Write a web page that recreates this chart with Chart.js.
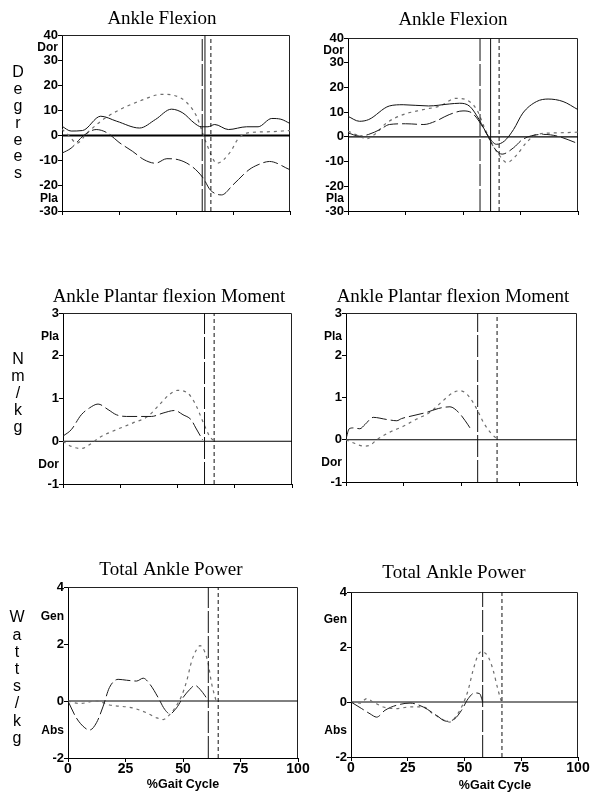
<!DOCTYPE html>
<html>
<head>
<meta charset="utf-8">
<script src="https://cdn.jsdelivr.net/npm/chart.js@4"></script>
<style>
  html, body { margin: 0; padding: 0; background: #fff; }
  body { width: 597px; height: 794px; position: relative; overflow: hidden; }
  .panel { position: absolute; }
</style>
</head>
<body>
<script>
// ---- data: % gait cycle (x) and values (y) ----
// Ankle flexion, left
const flexL_solidX = [0, 4, 9, 17, 24, 34, 41, 48, 53, 58, 61, 64, 67, 73, 81, 86, 92, 96, 100];
const flexL_solidY = [3.7, 1.8, 2, 7.7, 5.7, 3, 6.4, 10.5, 9, 5, 3.5, 3.5, 4.4, 2.4, 3.5, 3.5, 6.8, 6.5, 4.8];
const flexL_longX = [0, 4, 9.5, 15, 20, 25, 31, 36, 41, 46, 51, 57, 62, 65, 70, 75, 82, 86, 91, 100];
const flexL_longY = [-7, -5, 0, 2.4, 1, -2.7, -6.3, -9.6, -11, -9.2, -9.6, -12.3, -17, -21.6, -23.6, -19.6, -13.6, -11.6, -10.3, -13.6];
const flexL_dotX = [0, 3, 6.5, 11, 17, 24, 34, 44, 49, 54, 59, 63, 68, 74, 77, 81, 90, 100];
const flexL_dotY = [2.5, 0, -3, 1, 5.7, 9.7, 13.7, 16.4, 16, 13.7, 7.7, -2.3, -11, -6.3, -1.6, 1, 1.5, 2];
const flexL_events = [61.5, 62.7, 65.3];

// Ankle flexion, right
const flexR_solidX = [0, 5, 9, 18, 24, 35, 44, 48.5, 53, 57, 61, 64.5, 68, 72, 76, 82, 87, 93.5, 100];
const flexR_solidY = [8.3, 6.3, 7, 12.5, 13, 12.5, 13.3, 13.6, 12.3, 7, 0.3, -3, -1.7, 3, 9.6, 14.3, 15.3, 14.3, 11];
const flexR_longX = [0, 5, 9, 14, 18, 25, 33, 38, 44, 50, 54, 57, 61, 64, 67, 72, 76, 85, 91, 100];
const flexR_longY = [1.6, 0.3, 1, 3, 5, 5.3, 5, 6.3, 9, 10.5, 9.6, 6.3, 0, -5, -7, -4.4, -1, 1, 0.3, -2.7];
const flexR_dotX = [0, 5, 8, 11.6, 16.7, 24, 32.6, 40, 47, 51.4, 56, 59.4, 62.3, 66, 69, 73, 77.5, 82, 90.6, 100];
const flexR_dotY = [2.3, 0.3, -0.8, 1, 5.6, 9, 11, 12.5, 15.6, 15, 11, 3.6, -2.4, -7.7, -10.4, -7.7, -2.4, 1, 1.6, 1.9];
const flexR_events = [57.4, 62, 65.7];

// Ankle plantar flexion moment, left
const momL_longX = [0, 3.6, 8, 11.6, 15.3, 19.7, 23.3, 27.7, 38.6, 43.7, 48.8, 52.4, 56, 58, 61];
const momL_longY = [0.12, 0.27, 0.62, 0.78, 0.87, 0.74, 0.62, 0.58, 0.58, 0.66, 0.72, 0.62, 0.5, 0.31, 0.03];
const momL_dotX = [0, 3.6, 8, 12.4, 16, 23.3, 30.6, 37, 42, 46.6, 50, 54.6, 58, 61, 64, 66];
const momL_dotY = [0, -0.12, -0.17, -0.05, 0.09, 0.27, 0.43, 0.58, 0.85, 1.1, 1.19, 1.12, 0.85, 0.47, 0.12, 0];
const momL_events = [61.8, 66];

// Ankle plantar flexion moment, right
const momR_longX = [0, 1.4, 3.2, 6, 8.2, 11.8, 17.6, 22, 24, 29, 35, 40, 45, 48.7, 51.6, 53.8];
const momR_longY = [0.02, 0.26, 0.28, 0.26, 0.36, 0.53, 0.48, 0.45, 0.5, 0.57, 0.65, 0.74, 0.78, 0.65, 0.45, 0.27];
const momR_dotX = [0, 3.9, 7.5, 10.4, 13.3, 19, 24.8, 30.6, 36.4, 41.5, 46.5, 49.4, 53, 56.6, 59.5, 62.4, 65.3];
const momR_dotY = [0, -0.09, -0.15, -0.13, 0, 0.18, 0.32, 0.49, 0.65, 0.9, 1.12, 1.16, 1.04, 0.73, 0.41, 0.18, 0.02];
const momR_events = [57, 65.4];

// Total ankle power, left
const powL_longX = [0, 3.6, 7.3, 9.4, 12.4, 15.3, 18, 21.8, 25.4, 29.8, 32.7, 35.6, 39.2, 42, 44.3, 47.2, 50, 53, 55.2, 57.4, 59.6, 61];
const powL_longY = [0, -0.59, -0.94, -1.02, -0.76, -0.18, 0.47, 0.76, 0.73, 0.7, 0.8, 0.59, 0.12, -0.29, -0.45, -0.24, 0.12, 0.41, 0.55, 0.41, 0.18, 0];
const powL_dotX = [0, 5, 12.4, 18, 28, 34, 38.5, 41.4, 44.3, 47, 49.4, 51.6, 53.8, 56, 57.4, 59.6, 61, 62.5, 64.4];
const powL_dotY = [0, -0.09, 0, -0.14, -0.24, -0.41, -0.59, -0.65, -0.47, -0.18, 0.18, 0.7, 1.41, 1.82, 1.94, 1.7, 1.29, 0.59, 0];
const powL_events = [61, 65.3];

// Total ankle power, right
const powR_longX = [0, 4.7, 8.4, 11.3, 15, 20, 26, 31.8, 37.7, 42, 45.7, 48.7, 51.6, 54.5, 56.7, 58];
const powR_longY = [0, -0.24, -0.43, -0.55, -0.3, -0.12, -0.04, -0.18, -0.49, -0.7, -0.61, -0.3, 0.12, 0.33, 0.3, 0];
const powR_dotX = [0, 4, 6.9, 9.8, 14.2, 20, 26, 31.8, 36.2, 41.3, 43.5, 46.5, 49.4, 51.6, 53.8, 56, 57.5, 60.4, 62.6, 64.8, 66.3];
const powR_dotY = [0, -0.04, 0.12, 0, -0.18, -0.24, -0.18, -0.18, -0.43, -0.67, -0.73, -0.49, -0.06, 0.43, 1.16, 1.71, 1.83, 1.65, 1.16, 0.43, 0];
const powR_events = [58, 66.5];

const xTickLabels = ['0', '25', '50', '75', '100'];

// ---- styles ----
const styles = {
  solid: { color: '#111', dash: [], width: 1 },
  long:  { color: '#1a1a1a', dash: [15, 4], width: 1 },
  dot:   { color: '#6e6e6e', dash: [3, 4], width: 1.2 }
};
const markStyles = {
  solid: { color: '#111', dash: [] },
  long:  { color: '#111', dash: [22, 3] },
  dot:   { color: '#111', dash: [4, 3] }
};

function zip(xs, ys) { return xs.map((x, i) => ({ x: x, y: ys[i] })); }

function curve(xs, ys, kind) {
  const s = styles[kind];
  return {
    data: zip(xs, ys), borderColor: s.color, borderDash: s.dash, borderWidth: s.width,
    pointRadius: 0, fill: false, cubicInterpolationMode: 'monotone'
  };
}

function marker(x, kind, yMin, yMax) {
  const s = markStyles[kind];
  return {
    data: [{ x: x, y: yMin }, { x: x, y: yMax }], borderColor: s.color, borderDash: s.dash,
    borderWidth: 1, pointRadius: 0, tension: 0
  };
}

const panels = [
  { box: [0, 0, 320, 235], plot: [62, 35, 290, 211], yMin: -30, yMax: 40, yStep: 10, xH: 6,
    title: 'Ankle Flexion', titleX: 162, titleY: 19, side: 'Degrees', sideX: 18, sideY: 73, sideStep: 16.8,
    marks: [['Dor', 35], ['Pla', -25]], zeroW: 2,
    series: [[flexL_solidX, flexL_solidY, 'solid'], [flexL_longX, flexL_longY, 'long'], [flexL_dotX, flexL_dotY, 'dot']],
    events: [[flexL_events[0], 'long'], [flexL_events[1], 'solid'], [flexL_events[2], 'dot']] },
  { box: [300, 0, 297, 235], plot: [348, 38, 578, 211], yMin: -30, yMax: 40, yStep: 10, xH: 6,
    title: 'Ankle Flexion', titleX: 453, titleY: 20,
    marks: [['Dor', 35], ['Pla', -25]], zeroW: 1.2,
    series: [[flexR_solidX, flexR_solidY, 'solid'], [flexR_longX, flexR_longY, 'long'], [flexR_dotX, flexR_dotY, 'dot']],
    events: [[flexR_events[0], 'long'], [flexR_events[1], 'solid'], [flexR_events[2], 'dot']] },
  { box: [0, 262, 320, 238], plot: [63, 313, 292, 484], yMin: -1, yMax: 3, yStep: 1, xH: 6,
    title: 'Ankle Plantar flexion Moment', titleX: 169, titleY: 297, side: 'Nm/kg', sideX: 18, sideY: 360, sideStep: 17,
    marks: [['Pla', 2.45], ['Dor', -0.55]], zeroW: 1.2,
    series: [[momL_longX, momL_longY, 'long'], [momL_dotX, momL_dotY, 'dot']],
    events: [[momL_events[0], 'long'], [momL_events[1], 'dot']] },
  { box: [300, 262, 297, 238], plot: [346, 313, 577, 482], yMin: -1, yMax: 3, yStep: 1, xH: 6,
    title: 'Ankle Plantar flexion Moment', titleX: 453, titleY: 297,
    marks: [['Pla', 2.45], ['Dor', -0.55]], zeroW: 1.2,
    series: [[momR_longX, momR_longY, 'long'], [momR_dotX, momR_dotY, 'dot']],
    events: [[momR_events[0], 'long'], [momR_events[1], 'dot']] },
  { box: [0, 540, 320, 254], plot: [68, 587, 298, 758], yMin: -2, yMax: 4, yStep: 2, xH: 22,
    title: 'Total Ankle Power', titleX: 171, titleY: 570, side: 'Watts/kg', sideX: 17, sideY: 618, sideStep: 17.2,
    marks: [['Gen', 2.95], ['Abs', -1.05]], zeroW: 1, xTitleX: 183, xTitleY: 785,
    series: [[powL_longX, powL_longY, 'long'], [powL_dotX, powL_dotY, 'dot']],
    events: [[powL_events[0], 'long'], [powL_events[1], 'dot']] },
  { box: [300, 540, 297, 254], plot: [351, 592, 578, 757], yMin: -2, yMax: 4, yStep: 2, xH: 22,
    title: 'Total Ankle Power', titleX: 454, titleY: 573,
    marks: [['Gen', 3.0], ['Abs', -1.05]], zeroW: 1, xTitleX: 495, xTitleY: 786,
    series: [[powR_longX, powR_longY, 'long'], [powR_dotX, powR_dotY, 'dot']],
    events: [[powR_events[0], 'long'], [powR_events[1], 'dot']] }
];

const decor = {
  id: 'decor',
  beforeDatasetsDraw(chart, args, o) {
    const { ctx, chartArea: a, scales: { y } } = chart;
    ctx.save();
    ctx.strokeStyle = '#222';
    ctx.lineWidth = 1;
    ctx.beginPath();
    ctx.moveTo(a.left, a.top + 0.5);
    ctx.lineTo(a.right - 0.5, a.top + 0.5);
    ctx.lineTo(a.right - 0.5, a.bottom);
    ctx.stroke();
    const y0 = y.getPixelForValue(0);
    ctx.strokeStyle = '#000';
    ctx.lineWidth = o.zeroW;
    ctx.beginPath();
    ctx.moveTo(a.left, y0);
    ctx.lineTo(a.right, y0);
    ctx.stroke();
    ctx.restore();
  },
  afterDraw(chart, args, o) {
    const { ctx, chartArea: a, scales: { y } } = chart;
    const ox = o.box[0], oy = o.box[1];
    ctx.save();
    ctx.fillStyle = '#000';
    ctx.textBaseline = 'middle';
    // title
    ctx.textAlign = 'center';
    ctx.font = '19px "Liberation Serif", "Times New Roman", serif';
    ctx.fillText(o.title, o.titleX - ox, o.titleY - oy);
    // stacked side label
    if (o.side) {
      ctx.font = '16px "Liberation Sans", Arial, sans-serif';
      o.side.split('').forEach((ch, i) => {
        ctx.fillText(ch, o.sideX - ox, o.sideY - oy + i * o.sideStep);
      });
    }
    // direction marks
    ctx.textAlign = 'right';
    ctx.font = 'bold 12px "Liberation Sans", Arial, sans-serif';
    o.marks.forEach(m => {
      ctx.fillText(m[0], a.left - 4, y.getPixelForValue(m[1]));
    });
    if (o.xTitleX) {
      ctx.textAlign = 'center';
      ctx.font = 'bold 12.5px "Liberation Sans", Arial, sans-serif';
      ctx.fillText('%Gait Cycle', o.xTitleX - ox, o.xTitleY - oy);
    }
    ctx.restore();
  }
};

panels.forEach((p, i) => {
  const [bx, by, bw, bh] = p.box;
  const [pl, pt, pr, pb] = p.plot;
  const div = document.createElement('div');
  div.className = 'panel';
  div.style.left = bx + 'px';
  div.style.top = by + 'px';
  div.style.width = bw + 'px';
  div.style.height = bh + 'px';
  const cv = document.createElement('canvas');
  div.appendChild(cv);
  document.body.appendChild(div);

  const yW = pl - bx;
  const padTop = pt - by;
  const padRight = bx + bw - pr;
  const padBottom = by + bh - pb - p.xH;

  const datasets = [];
  p.events.forEach(e => datasets.push(marker(e[0], e[1], p.yMin, p.yMax)));
  p.series.forEach(s => datasets.push(curve(s[0], s[1], s[2])));

  const tickFont = { family: '"Liberation Sans", Arial, sans-serif', size: 13, weight: 'bold' };

  new Chart(cv.getContext('2d'), {
    type: 'line',
    data: { datasets: datasets },
    options: {
      responsive: true,
      maintainAspectRatio: false,
      animation: false,
      events: [],
      layout: { padding: { top: padTop, right: padRight, bottom: padBottom, left: 0 } },
      plugins: {
        legend: { display: false },
        tooltip: { enabled: false },
        title: { display: false },
        decor: Object.assign({}, p)
      },
      scales: {
        x: {
          type: 'linear', min: 0, max: 100,
          ticks: {
            stepSize: 25, display: p.xH > 10, color: '#000', padding: -1, maxRotation: 0,
            font: { family: '"Liberation Sans", Arial, sans-serif', size: 14, weight: 'bold' },
            callback: (v) => xTickLabels[v / 25]
          },
          grid: { drawOnChartArea: false, tickLength: 4, color: '#000' },
          border: { color: '#000', width: 1 },
          afterFit: s => { s.height = p.xH; }
        },
        y: {
          min: p.yMin, max: p.yMax,
          ticks: { stepSize: p.yStep, color: '#000', padding: 0, font: tickFont },
          grid: { drawOnChartArea: false, tickLength: 4, color: '#000' },
          border: { color: '#000', width: 1 },
          afterFit: s => { s.width = yW; }
        }
      }
    },
    plugins: [decor]
  });
});
</script>
</body>
</html>
